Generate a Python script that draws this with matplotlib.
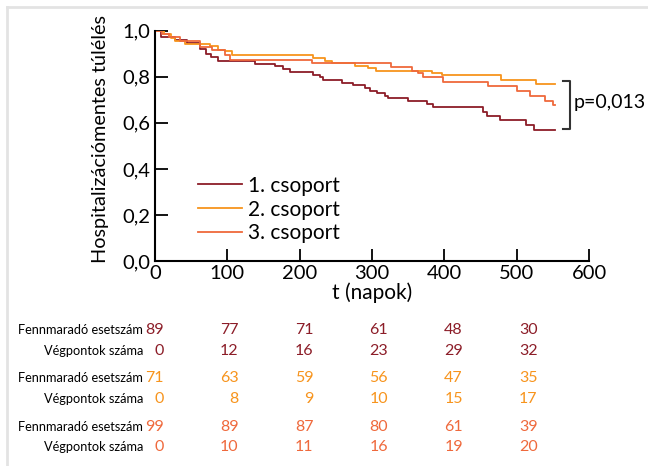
import matplotlib
matplotlib.use("Agg")
import matplotlib.pyplot as plt
from matplotlib.lines import Line2D

plt.rcParams['font.family'] = ['Lato', 'DejaVu Sans']

# Kaplan-Meier lépcsők (t napok, túlélés)
t1 = [0, 9, 28, 45, 62, 70, 78, 87, 138, 166, 177, 187, 218, 228, 232, 259, 274, 290,
      297, 307, 318, 322, 350, 376, 384, 453, 459, 477, 513, 524, 553]
s1 = [1.0, 0.975, 0.962, 0.945, 0.92, 0.90, 0.886, 0.868, 0.855, 0.845, 0.833, 0.819, 0.809,
      0.797, 0.787, 0.775, 0.764, 0.751, 0.74, 0.729, 0.717, 0.706, 0.693, 0.681, 0.668,
      0.649, 0.63, 0.613, 0.591, 0.571, 0.571]

t2 = [0, 12, 22, 28, 42, 76, 87, 97, 106, 219, 235, 245, 277, 294, 305, 383, 397, 478, 527, 553]
s2 = [1.0, 0.985, 0.97, 0.955, 0.943, 0.932, 0.917, 0.91, 0.896, 0.881, 0.87, 0.858, 0.849,
      0.838, 0.827, 0.816, 0.809, 0.787, 0.768, 0.768]

t3 = [0, 10, 20, 35, 62, 79, 97, 104, 217, 326, 356, 363, 370, 398, 460, 500, 519, 539, 550, 553]
s3 = [1.0, 0.985, 0.975, 0.955, 0.93, 0.917, 0.893, 0.874, 0.858, 0.842, 0.827, 0.816, 0.797,
      0.777, 0.758, 0.739, 0.717, 0.694, 0.677, 0.677]

labels = ['1. csoport', '2. csoport', '3. csoport']
colors = ['#8c1d28', '#f7941d', '#ef693c']

# kockázati táblázat
risk_times = [0, 100, 200, 300, 400, 500]
remaining = [[89, 77, 71, 61, 48, 30],
             [71, 63, 59, 56, 47, 35],
             [99, 89, 87, 80, 61, 39]]
events = [[0, 12, 16, 23, 29, 32],
          [0, 8, 9, 10, 15, 17],
          [0, 10, 11, 16, 19, 20]]

fig = plt.figure(figsize=(6.48, 4.66), dpi=100)
ax = fig.add_axes([0.239, 0.44, 0.67, 0.494])

for t, s, lab, c in zip([t1, t2, t3], [s1, s2, s3], labels, colors):
    ax.step(t, s, where='post', color=c, lw=1.3, label=lab)

ax.set_xlim(0, 600)
ax.set_ylim(0, 1.0)
ax.set_xticks([0, 100, 200, 300, 400, 500, 600])
ax.set_yticks([0, 0.2, 0.4, 0.6, 0.8, 1.0])
ax.set_yticklabels(['0,0', '0,2', '0,4', '0,6', '0,8', '1,0'])
ax.tick_params(direction='in', length=9, width=1.3, labelsize=14.5, pad=3)
ax.spines['top'].set_visible(False)
ax.spines['right'].set_visible(False)
for sp in ['left', 'bottom']:
    ax.spines[sp].set_linewidth(1.5)

ax.set_xlabel('t (napok)', fontsize=15, labelpad=0)
ax.set_ylabel('Hospitalizációmentes túlélés', fontsize=14.3)
ax.yaxis.set_label_coords(-0.106, 0.53)

ax.legend(loc='upper left', bbox_to_anchor=(0.099, 0.37), frameon=False, fontsize=15,
          handlelength=2.1, handletextpad=0.3, labelspacing=0.18, borderpad=0, borderaxespad=0)

# p-érték zárójel
ax.plot([564, 573.5, 573.5, 564], [0.78, 0.78, 0.574, 0.574], color='#333333', lw=1.5,
        clip_on=False)
ax.text(579, 0.687, 'p=0,013', fontsize=14, va='center', ha='left', clip_on=False)

# táblázat
row_y = [330, 351, 378, 399, 427, 447]
for g in range(3):
    for r, (name, vals) in enumerate([('Fennmaradó esetszám', remaining[g]),
                                      ('Végpontok száma', events[g])]):
        ypx = row_y[g * 2 + r]
        yfig = 1 - ypx / 466
        fig.text(143 / 648, yfig, name, fontsize=9.2, ha='right', va='center',
                 family=['Liberation Sans Narrow', 'Lato'])
        for k, (tt, v) in enumerate(zip(risk_times, vals)):
            xpx = ax.transData.transform((tt, 0))[0] + 9 + 2.4 * k
            fig.text(xpx / 648, yfig, str(v), fontsize=11.5, ha='right', va='center',
                     color=colors[g])

# világosszürke keret
fig.add_artist(Line2D([7 / 648, 1], [1 - 7 / 466, 1 - 7 / 466], color='#e3e3e3', lw=2))
fig.add_artist(Line2D([7 / 648, 7 / 648], [0, 1 - 7 / 466], color='#e3e3e3', lw=2))

fig.savefig('out.png', dpi=100)
